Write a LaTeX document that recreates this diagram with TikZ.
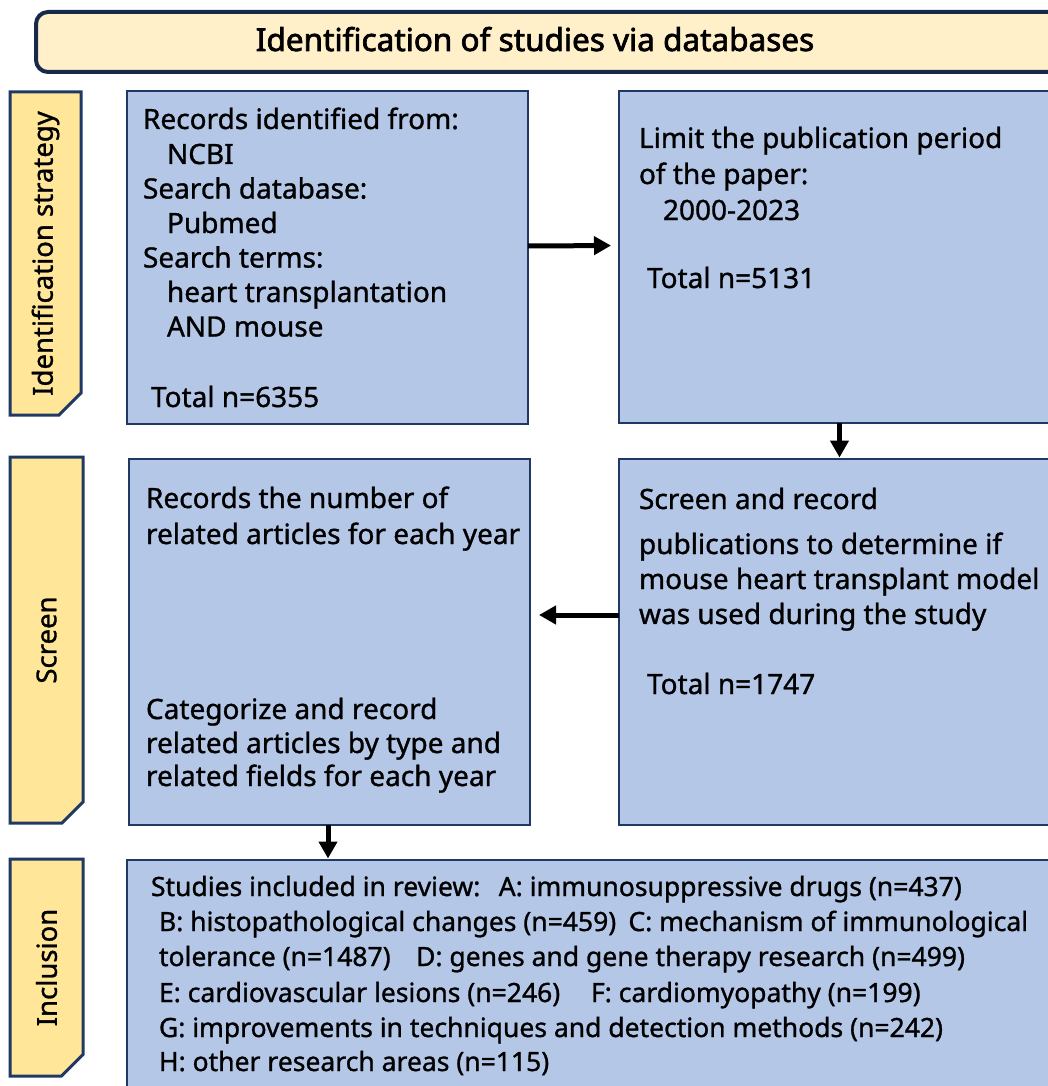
\documentclass[tikz,border=0pt]{standalone}
\usepackage{fontspec}
\setmainfont{Noto Sans}
\newfontfamily\bodyf{Noto Sans}[FakeBold=1.1]
\newfontfamily\semib{Noto Sans}[FakeBold=2.2]
\usepackage{graphicx}
\usetikzlibrary{arrows.meta,shapes.misc}
\definecolor{navy}{HTML}{203864}
\definecolor{darknavy}{HTML}{17294A}
\definecolor{cream}{HTML}{FFF0CA}
\definecolor{sidefill}{HTML}{FFE699}
\definecolor{bluef}{HTML}{B4C7E7}
\tikzset{
  bluebox/.style={draw=navy, line width=2.5pt, fill=bluef, inner sep=0pt, outer sep=0pt, anchor=north west},
  sidebox/.style={chamfered rectangle, chamfered rectangle corners=south east, chamfered rectangle xsep=11pt, chamfered rectangle ysep=11pt,
     draw=navy, line width=3pt, fill=sidefill, inner sep=0pt, outer sep=0pt, font=\fontsize{27.5}{30}\selectfont\bodyf},
  txt/.style={anchor=base west, inner sep=0pt, outer sep=0pt, font=\fontsize{28}{30}\selectfont\bodyf},
  etxt/.style={anchor=base west, inner sep=0pt, outer sep=0pt, font=\fontsize{26.5}{30}\selectfont\bodyf},
  arr/.style={line width=5pt, -{Triangle[length=17pt,width=18pt]}},
}
\begin{document}
\begin{tikzpicture}[x=1pt,y=-1pt]
\clip (0,0) rectangle (1048,1086);
\fill[white] (0,0) rectangle (1048,1086);
% banner
\node[draw=darknavy, line width=4pt, fill=cream, rounded corners=12pt, minimum width=1030pt, minimum height=60pt, anchor=north west, inner sep=0pt, outer sep=0pt] (banner) at (36,12) {};
\node[anchor=base, inner sep=0pt, font=\fontsize{31.5}{34}\selectfont\semib] (bannertext) at (535,51) {Identification of studies via databases};
% side labels
\node[sidebox, minimum width=71pt, minimum height=323pt] (s1) at (45.5,253.5) {\rotatebox{90}{Identification strategy}};
\node[sidebox, minimum width=73pt, minimum height=366pt] (s2) at (46.5,640) {\rotatebox{90}{Screen}};
\node[sidebox, minimum width=73pt, minimum height=217pt] (s3) at (46.5,967.5) {\rotatebox{90}{Inclusion}};
% boxes
\node[bluebox, minimum width=401pt, minimum height=333pt] (A) at (127,91) {};
\node[bluebox, minimum width=441pt, minimum height=332pt] (B) at (619,91) {};
\node[bluebox, minimum width=401pt, minimum height=366pt] (C) at (129,459) {};
\node[bluebox, minimum width=441pt, minimum height=366pt] (D) at (619,459) {};
\node[bluebox, minimum width=933pt, minimum height=240pt] (E) at (127,860) {};
% box A text
\node[txt] (a1) at (143,129) {Records identified from:};
\node[txt] (a2) at (167,164) {NCBI};
\node[txt] (a3) at (143,198.5) {Search database:};
\node[txt] (a4) at (167,233) {Pubmed};
\node[txt] (a5) at (143,267.5) {Search terms:};
\node[txt] (a6) at (167,302) {heart transplantation};
\node[txt] (a7) at (167,336.5) {AND mouse};
\node[txt] (a8) at (151,407) {Total n=6355};
% box B text
\node[txt] (b1) at (639,148) {Limit the publication period};
\node[txt] (b2) at (639,184) {of the paper:};
\node[txt] (b3) at (663,220) {2000-2023};
\node[txt] (b4) at (647,288) {Total n=5131};
% box C text
\node[txt] (c1) at (146,508) {Records the number of};
\node[txt] (c2) at (146,544) {related articles for each year};
\node[txt] (c3) at (146,719) {Categorize and record};
\node[txt] (c4) at (146,753) {related articles by type and};
\node[txt] (c5) at (146,786) {related fields for each year};
% box D text
\node[txt] (d1) at (639,509) {Screen and record};
\node[txt] (d2) at (639,554) {publications to determine if};
\node[txt] (d3) at (639,589) {mouse heart transplant model};
\node[txt] (d4) at (639,624) {was used during the study};
\node[txt] (d5) at (647,694) {Total n=1747};
% box E text
\node[etxt] (e1) at (151,896) {Studies included in review:\hspace{0.35em} A: immunosuppressive drugs (n=437)};
\node[etxt] (e2) at (159,931) {B: histopathological changes (n=459)\hspace{0.2em} C: mechanism of immunological};
\node[etxt] (e3) at (159,966) {tolerance (n=1487)\hspace{0.7em} D: genes and gene therapy research (n=499)};
\node[etxt] (e4) at (159,1002) {E: cardiovascular lesions (n=246)\hspace{0.9em} F: cardiomyopathy (n=199)};
\node[etxt] (e5) at (159,1037) {G: improvements in techniques and detection methods (n=242)};
\node[etxt] (e6) at (159,1071) {H: other research areas (n=115)};
% arrows
\draw[arr, shorten >=8pt] ([yshift=11.5pt]A.east) -- ([yshift=11.5pt]B.west);
\draw[arr, shorten >=1.5pt] (B.south) -- (D.north);
\draw[arr, shorten >=9pt] ([yshift=27pt]D.west) -- ([yshift=27pt]C.east);
\draw[arr, shorten >=1.5pt] ([xshift=-1.5pt]C.south) -- ([xshift=-1.5pt]C.south |- E.north);
\end{tikzpicture}
\end{document}
